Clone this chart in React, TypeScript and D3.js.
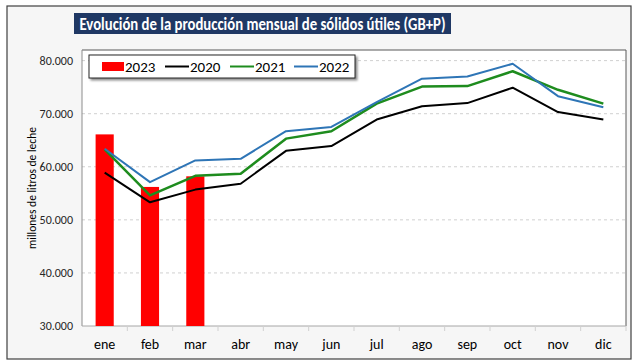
import React from 'react';
import * as d3 from 'd3';

const months = ['ene', 'feb', 'mar', 'abr', 'may', 'jun', 'jul', 'ago', 'sep', 'oct', 'nov', 'dic'];
const yTicks = [30000, 40000, 50000, 60000, 70000, 80000];

const values2023 = [66100, 56200, 58200];
const values2020 = [58900, 53300, 55700, 56800, 63000, 63900, 68900, 71400, 72000, 74900, 70300, 68900];
const values2021 = [63300, 54600, 58300, 58700, 65300, 66700, 71900, 75100, 75200, 78000, 74500, 71900];
const values2022 = [63400, 57100, 61200, 61500, 66700, 67500, 72200, 76600, 77000, 79400, 73300, 71200];

const lineSeries = [
  { name: '2020', values: values2020, color: '#000000', width: 2 },
  { name: '2021', values: values2021, color: '#1e8c1e', width: 2.5 },
  { name: '2022', values: values2022, color: '#2e75b6', width: 2 },
];

const FONT = "Calibri, Carlito, 'Open Sans', 'Noto Sans', sans-serif";

export default function App() {
  const W = 640;
  const H = 364;
  const plot = { left: 82, right: 626, top: 50, bottom: 326 };

  const x = d3.scaleBand<string>().domain(months).range([plot.left, plot.right]);
  const y = d3.scaleLinear().domain([30000, 82000]).range([plot.bottom, plot.top]);
  const cx = (m: string) => (x(m) as number) + x.bandwidth() / 2;
  const fmt = (v: number) => d3.format(',.3f')(v / 1000).replace(',', '.');

  const line = d3.line<number>()
    .x((_, i) => cx(months[i]))
    .y(d => y(d));

  const barW = x.bandwidth() * 0.4;

  // legend entries
  const legend = [
    { name: '2023', color: '#ff0000', bar: true, x: 102 },
    { name: '2020', color: '#000000', bar: false, x: 165 },
    { name: '2021', color: '#1e8c1e', bar: false, x: 230 },
    { name: '2022', color: '#2e75b6', bar: false, x: 294 },
  ];

  return (
    <svg width={W} height={H} style={{ position: 'absolute', left: 0, top: 0 }} fontFamily={FONT}>
      <defs>
        <filter id="shadow" x="-5%" y="-20%" width="115%" height="160%">
          <feDropShadow dx="2" dy="2" stdDeviation="1.2" floodColor="#000" floodOpacity="0.45" />
        </filter>
      </defs>
      <rect x={0} y={0} width={W} height={H} fill="#ffffff" />
      <rect x={7} y={6} width={624} height={353} fill="#f6f6f6" stroke="#404040" strokeWidth={1.2} />

      {/* title */}
      <rect x={74} y={13} width={377} height={21} fill="#1f3864" />
      <text x={262.5} y={29.5} textAnchor="middle" fill="#ffffff" fontWeight="bold" fontSize={17.5}
        textLength={366} lengthAdjust="spacingAndGlyphs">
        Evolución de la producción mensual de sólidos útiles (GB+P)
      </text>

      {/* plot area */}
      <rect x={plot.left} y={plot.top} width={plot.right - plot.left} height={plot.bottom - plot.top} fill="#ffffff" />
      {yTicks.slice(1).map(t => (
        <line key={t} x1={plot.left} x2={plot.right} y1={y(t)} y2={y(t)} stroke="#d0d0d0" strokeDasharray="3,3" />
      ))}
      <line x1={plot.left} x2={plot.right} y1={plot.top} y2={plot.top} stroke="#595959" strokeWidth={1} />
      <line x1={plot.right} x2={plot.right} y1={plot.top} y2={plot.bottom} stroke="#595959" strokeWidth={1} />
      <line x1={plot.left} x2={plot.left} y1={plot.top} y2={plot.bottom} stroke="#8c8c8c" strokeWidth={1} />
      <line x1={plot.left} x2={plot.right} y1={plot.bottom} y2={plot.bottom} stroke="#a6a6a6" strokeWidth={1} />
      {months.map(m => (
        <line key={m} x1={(x(m) as number) + x.bandwidth()} x2={(x(m) as number) + x.bandwidth()}
          y1={plot.bottom} y2={plot.bottom + 5} stroke="#d0d0d0" />
      ))}

      {/* bars */}
      {values2023.map((v, i) => (
        <rect key={i} x={cx(months[i]) - barW / 2} y={y(v)} width={barW} height={plot.bottom - y(v)} fill="#ff0000" />
      ))}

      {/* lines */}
      {lineSeries.map(s => (
        <path key={s.name} d={line(s.values) as string} fill="none" stroke={s.color} strokeWidth={s.width}
          strokeLinejoin="round" />
      ))}

      {/* y axis labels */}
      {yTicks.map(t => (
        <text key={t} x={73} y={y(t) + 4} textAnchor="end" fontSize={12} fill="#262626">{fmt(t)}</text>
      ))}
      <text transform={`translate(36,${(plot.top + plot.bottom) / 2}) rotate(-90)`} textAnchor="middle"
        fontSize={11.5} fill="#000">millones de litros de leche</text>

      {/* x axis labels */}
      {months.map(m => (
        <text key={m} x={cx(m)} y={349} textAnchor="middle" fontSize={14} fill="#000">{m}</text>
      ))}

      {/* legend */}
      <rect x={89} y={55} width={266} height={23} fill="#ffffff" stroke="#262626" strokeWidth={1} filter="url(#shadow)" />
      {legend.map(l => (
        <g key={l.name}>
          {l.bar
            ? <rect x={l.x} y={62} width={22} height={9} fill={l.color} />
            : <line x1={l.x} x2={l.x + 24} y1={66.5} y2={66.5} stroke={l.color} strokeWidth={2} />}
          <text x={l.x + (l.bar ? 23 : 25)} y={71.5} fontSize={15} fill="#000">{l.name}</text>
        </g>
      ))}
    </svg>
  );
}
